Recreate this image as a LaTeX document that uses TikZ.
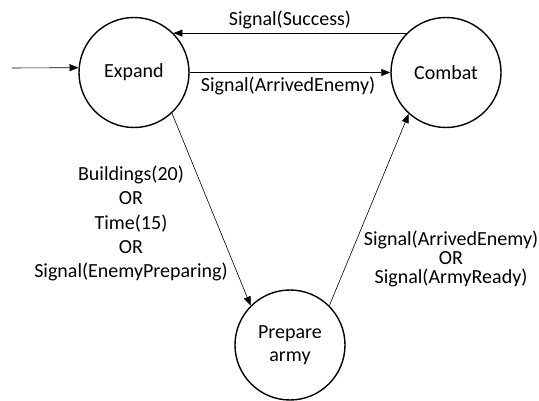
\documentclass[tikz,border=0pt]{standalone}
\usepackage{fontspec}
\setmainfont{Carlito}
\usetikzlibrary{arrows.meta}
\begin{document}
\begin{tikzpicture}[x=1pt,y=-1pt,
  state/.style={circle,draw,line width=1.4pt,minimum size=110pt,inner sep=0pt,align=center,font=\fontsize{20}{23}\selectfont},
  conn/.style={line width=0.6pt,-{Triangle[length=9pt,width=7pt]}},
  lbl/.style={font=\fontsize{20}{24.25}\selectfont,align=center,inner sep=0pt}]
\useasboundingbox (0,0) rectangle (539,401);
\node[state] (expand) at (134,72.5) {Expand};
\node[state] (combat) at (446,72.5) {Combat};
\node[state] (prepare) at (290,345) {Prepare\\army};
\coordinate (init) at (12,68);
\draw[conn] (init) -- (expand.175);
\draw[conn] (combat.135) -- (expand.45);
\draw[conn] (expand.east) -- (combat.west);
\draw[conn] (expand.-47) -- (prepare.135);
\draw[conn] (prepare.45) -- (combat.-132);
\node[lbl,anchor=base] (lsucc) at (290,26) {Signal(Success)};
\node[lbl,anchor=base] (larr) at (288,92) {Signal(ArrivedEnemy)};
\node[lbl] (lprep) at (131,223.5) {Buildings(20)\\OR\\Time(15)\\OR\\Signal(EnemyPreparing)};
\node[lbl,font=\fontsize{20}{19}\selectfont] (lcomb) at (451,259) {Signal(ArrivedEnemy)\\OR\\Signal(ArmyReady)};
\end{tikzpicture}
\end{document}
